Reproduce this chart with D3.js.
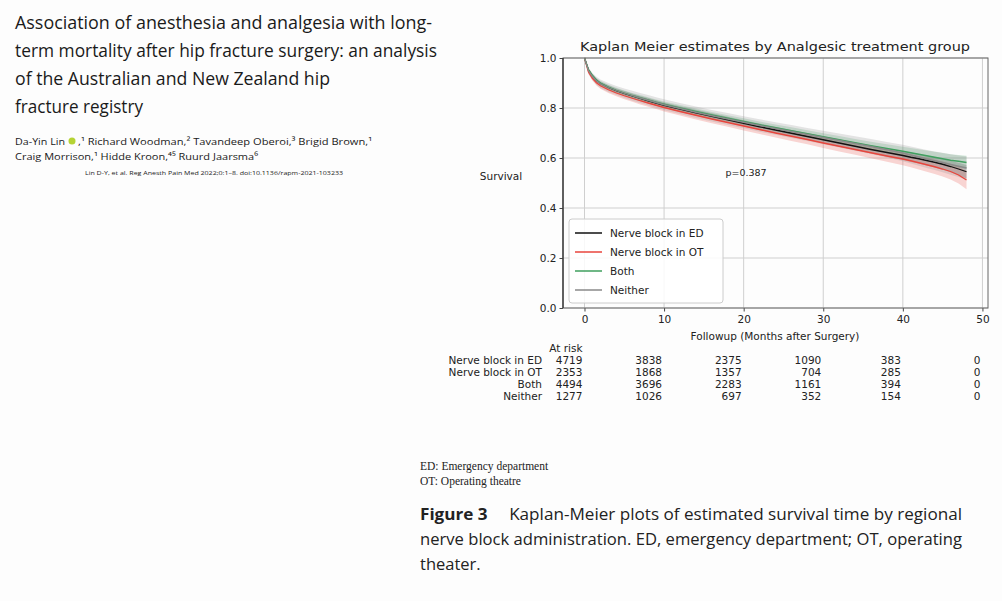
<!DOCTYPE html>
<html>
<head>
<meta charset="utf-8">
<script src="https://cdn.jsdelivr.net/npm/d3@7"></script>
<style>
  body{margin:0;background:#fdfdfd;}
  svg{display:block;}
</style>
</head>
<body>
<div id="chart"></div>
<script>
var w=1002;
var h=601;

// ---- data ----
var months=[0,0.5,1,1.5,2,3,4,5,6,7,8,9,10,12,14,16,18,20,22,24,26,28,30,32,34,36,38,40,41,42,43,44,45,46,47,48];

var survED=[1.000,0.952,0.928,0.910,0.898,0.882,0.869,0.858,0.848,0.838,0.829,0.820,0.811,0.796,0.781,0.767,0.753,0.739,0.725,0.712,0.699,0.686,0.673,0.660,0.647,0.634,0.622,0.610,0.603,0.597,0.590,0.583,0.575,0.566,0.556,0.545];
var survOT=[1.000,0.944,0.919,0.901,0.889,0.873,0.860,0.849,0.839,0.829,0.820,0.811,0.802,0.786,0.771,0.756,0.742,0.728,0.714,0.700,0.687,0.674,0.660,0.647,0.634,0.621,0.608,0.596,0.589,0.581,0.573,0.565,0.556,0.546,0.532,0.512];
var survBoth=[1.000,0.954,0.930,0.912,0.900,0.884,0.871,0.860,0.850,0.841,0.832,0.823,0.815,0.800,0.786,0.772,0.759,0.746,0.733,0.721,0.709,0.697,0.685,0.673,0.661,0.649,0.638,0.627,0.621,0.615,0.609,0.603,0.597,0.591,0.587,0.582];
var survNeither=[1.000,0.950,0.926,0.909,0.897,0.882,0.870,0.859,0.849,0.840,0.831,0.822,0.813,0.798,0.783,0.769,0.756,0.743,0.730,0.718,0.706,0.694,0.682,0.670,0.658,0.646,0.633,0.620,0.612,0.604,0.596,0.589,0.582,0.574,0.567,0.560];

// half width of the 95% band
var ciED=[0,0.006,0.007,0.008,0.008,0.009,0.009,0.010,0.010,0.010,0.011,0.011,0.011,0.011,0.012,0.012,0.012,0.012,0.013,0.013,0.013,0.014,0.014,0.015,0.015,0.016,0.017,0.018,0.019,0.019,0.020,0.021,0.022,0.023,0.025,0.027];
var ciOT=[0,0.009,0.010,0.011,0.012,0.013,0.013,0.014,0.014,0.015,0.015,0.015,0.016,0.016,0.017,0.017,0.017,0.018,0.018,0.018,0.019,0.019,0.020,0.021,0.021,0.022,0.023,0.025,0.026,0.027,0.028,0.029,0.030,0.032,0.034,0.037];
var ciBoth=[0,0.006,0.007,0.008,0.009,0.009,0.010,0.010,0.010,0.011,0.011,0.011,0.011,0.012,0.012,0.012,0.012,0.013,0.013,0.013,0.014,0.014,0.014,0.015,0.015,0.016,0.017,0.018,0.019,0.020,0.021,0.022,0.023,0.024,0.025,0.027];
var ciNeither=[0,0.012,0.014,0.016,0.017,0.018,0.018,0.019,0.020,0.020,0.021,0.021,0.022,0.022,0.023,0.023,0.024,0.024,0.025,0.025,0.026,0.026,0.027,0.028,0.029,0.030,0.031,0.033,0.034,0.035,0.036,0.037,0.039,0.041,0.043,0.046];

var groupNames=["Nerve block in ED","Nerve block in OT","Both","Neither"];
var groupColors=["#111111","#e8453c","#3f9f5e","#8a8a8a"];

var riskTimes=[0,10,20,30,40,50];
var riskED=[4719,3838,2375,1090,383,0];
var riskOT=[2353,1868,1357,704,285,0];
var riskBoth=[4494,3696,2283,1161,394,0];
var riskNeither=[1277,1026,697,352,154,0];

var xTicks=[0,10,20,30,40,50];
var yTicks=[0,0.2,0.4,0.6,0.8,1.0];

var groups=[
  {name:groupNames[0],color:groupColors[0],surv:survED,ci:ciED,risk:riskED},
  {name:groupNames[1],color:groupColors[1],surv:survOT,ci:ciOT,risk:riskOT},
  {name:groupNames[2],color:groupColors[2],surv:survBoth,ci:ciBoth,risk:riskBoth},
  {name:groupNames[3],color:groupColors[3],surv:survNeither,ci:ciNeither,risk:riskNeither}
];

var svg=d3.select("#chart").append("svg")
          .attr("width",w)
          .attr("height",h);

// ---- article header, left ----
var head=svg.append("g").attr("font-family","'Open Sans',sans-serif").attr("fill","#1a1a1a");
var titleLines=[
  ["Association of anesthesia and analgesia with long-",29,417],
  ["term mortality after hip fracture surgery: an analysis",57,422],
  ["of the Australian and New Zealand hip",85,315],
  ["fracture registry",113,128]
];
titleLines.forEach(function(l){
  head.append("text").attr("x",15).attr("y",l[1])
      .attr("font-size",19)
      .attr("textLength",l[2]).attr("lengthAdjust","spacingAndGlyphs")
      .text(l[0]);
});
head.append("text").attr("x",15).attr("y",145).attr("font-size",9.5)
    .attr("textLength",50).attr("lengthAdjust","spacingAndGlyphs")
    .text("Da-Yin Lin");
head.append("circle").attr("cx",72).attr("cy",141).attr("r",3.5).attr("fill","#b5d334");
head.append("text").attr("x",78).attr("y",145).attr("font-size",9.5)
    .attr("textLength",294).attr("lengthAdjust","spacingAndGlyphs")
    .text(",\u00b9 Richard Woodman,\u00b2 Tavandeep Oberoi,\u00b3 Brigid Brown,\u00b9");
head.append("text").attr("x",15).attr("y",160).attr("font-size",9.5)
    .attr("textLength",243).attr("lengthAdjust","spacingAndGlyphs")
    .text("Craig Morrison,\u00b9 Hidde Kroon,\u2074\u2075 Ruurd Jaarsma\u2076");
head.append("text").attr("x",85).attr("y",175).attr("font-size",6)
    .attr("textLength",258).attr("lengthAdjust","spacingAndGlyphs")
    .text("Lin D-Y, et al. Reg Anesth Pain Med 2022;0:1\u20138. doi:10.1136/rapm-2021-103233");

// ---- KM plot ----
var x=d3.scaleLinear().domain([-2.7,50.7]).range([563,988]);
var y=d3.scaleLinear().domain([0,1]).range([308,58]);

var plot=svg.append("g").attr("font-family","'DejaVu Sans',sans-serif");

// grid
plot.append("g").selectAll("line").data(xTicks).enter().append("line")
    .attr("x1",function(d){return x(d);}).attr("x2",function(d){return x(d);})
    .attr("y1",y(0)).attr("y2",y(1))
    .attr("stroke","#cfcfcf").attr("stroke-width",1);
plot.append("g").selectAll("line").data(yTicks).enter().append("line")
    .attr("x1",x.range()[0]).attr("x2",x.range()[1])
    .attr("y1",function(d){return y(d);}).attr("y2",function(d){return y(d);})
    .attr("stroke","#cfcfcf").attr("stroke-width",1);

// bands then lines
var area=d3.area()
  .x(function(d){return x(d.t);})
  .y0(function(d){return y(d.s-d.c);})
  .y1(function(d){return y(d.s+d.c);});
var line=d3.line()
  .x(function(d){return x(d.t);})
  .y(function(d){return y(d.s);});

groups.forEach(function(g){
  g.pts=months.map(function(t,i){return {t:t,s:g.surv[i],c:g.ci[i]};});
});
plot.append("g").selectAll("path").data(groups).enter().append("path")
    .attr("d",function(g){return area(g.pts);})
    .attr("fill",function(g){return g.color;})
    .attr("fill-opacity",0.22);
plot.append("g").selectAll("path").data(groups).enter().append("path")
    .attr("d",function(g){return line(g.pts);})
    .attr("fill","none")
    .attr("stroke",function(g){return g.color;})
    .attr("stroke-width",1.3);

// axes
var xAxis=plot.append("g").attr("transform","translate(0,"+y(0)+")")
  .call(d3.axisBottom(x).tickValues(xTicks).tickSize(3.5).tickFormat(d3.format("d")));
var yAxis=plot.append("g").attr("transform","translate("+x.range()[0]+",0)")
  .call(d3.axisLeft(y).tickValues(yTicks).tickSize(3.5).tickFormat(d3.format(".1f")));
[xAxis,yAxis].forEach(function(a){
  a.select(".domain").remove();
  a.selectAll("text").attr("font-size",10.5).attr("fill","#222").attr("font-family","'DejaVu Sans',sans-serif");
  a.selectAll("line").attr("stroke","#444");
});
xAxis.selectAll("text").attr("dy","0.8em");

// frame
plot.append("rect").attr("x",x.range()[0]).attr("y",y(1))
    .attr("width",x.range()[1]-x.range()[0]).attr("height",y(0)-y(1))
    .attr("fill","none").attr("stroke","#666").attr("stroke-width",1);
plot.append("line").attr("x1",x.range()[0]).attr("x2",x.range()[0])
    .attr("y1",y(1)).attr("y2",y(0)).attr("stroke","#333").attr("stroke-width",1.3);

plot.append("text").attr("x",775).attr("y",51).attr("text-anchor","middle")
    .attr("font-size",12.5).attr("fill","#222")
    .attr("textLength",390).attr("lengthAdjust","spacingAndGlyphs")
    .text("Kaplan Meier estimates by Analgesic treatment group");
plot.append("text").attr("x",775).attr("y",340).attr("text-anchor","middle")
    .attr("font-size",10.5).attr("fill","#222")
    .text("Followup (Months after Surgery)");
plot.append("text").attr("x",501).attr("y",180).attr("text-anchor","middle")
    .attr("font-size",10.5).attr("fill","#222")
    .text("Survival");
plot.append("text").attr("x",746).attr("y",176).attr("text-anchor","middle")
    .attr("font-size",9.5).attr("fill","#222")
    .text("p=0.387");

// legend
var lg=plot.append("g");
lg.append("rect").attr("x",569).attr("y",219).attr("width",154).attr("height",84).attr("rx",3)
  .attr("fill","#fff").attr("fill-opacity",0.85).attr("stroke","#ccc");
var li=lg.selectAll("g").data(groups).enter().append("g")
  .attr("transform",function(d,i){return "translate(0,"+(233+i*19)+")";});
li.append("line").attr("x1",575).attr("x2",602).attr("y1",0).attr("y2",0)
  .attr("stroke",function(d){return d.color;}).attr("stroke-width",1.5);
li.append("text").attr("x",610).attr("y",0).attr("dy","0.35em")
  .attr("font-size",10.5).attr("fill","#222")
  .text(function(d){return d.name;});

// at risk table
var tb=plot.append("g").attr("font-size",10.5).attr("fill","#222");
tb.append("text").attr("x",x(0)-2).attr("y",348).attr("dy","0.35em").attr("text-anchor","end").text("At risk");
var rows=tb.selectAll("g.row").data(groups).enter().append("g").attr("class","row")
  .attr("transform",function(d,i){return "translate(0,"+(360+i*12)+")";});
rows.append("text").attr("x",542).attr("dy","0.35em").attr("text-anchor","end")
  .text(function(d){return d.name;});
rows.selectAll("text.n").data(function(d){
    return riskTimes.map(function(t,i){return {t:t,n:d.risk[i]};});
  }).enter().append("text").attr("class","n")
  .attr("x",function(d){return x(d.t)-2;}).attr("dy","0.35em").attr("text-anchor","end")
  .text(function(d){return d.n;});

// ---- footnotes & caption ----
var foot=svg.append("g").attr("fill","#222");
foot.append("text").attr("x",420).attr("y",470).attr("font-family","'Liberation Serif',serif")
    .attr("font-size",11.5).text("ED: Emergency department");
foot.append("text").attr("x",420).attr("y",485).attr("font-family","'Liberation Serif',serif")
    .attr("font-size",11.5).text("OT: Operating theatre");
var cap=[
  [545,"nerve block administration. ED, emergency department; OT, operating",542],
  [570,"theater.",0]
];
var c1=foot.append("text").attr("x",420).attr("y",520).attr("font-family","'Open Sans',sans-serif")
    .attr("font-size",16.5).attr("textLength",542).attr("lengthAdjust","spacingAndGlyphs");
c1.append("tspan").attr("font-weight","bold").text("Figure 3");
c1.append("tspan").text("\u2003 Kaplan-Meier plots of estimated survival time by regional");
cap.forEach(function(c){
  var t=foot.append("text").attr("x",420).attr("y",c[0]).attr("font-family","'Open Sans',sans-serif")
    .attr("font-size",16.5).text(c[1]);
  if(c[2]) t.attr("textLength",c[2]).attr("lengthAdjust","spacingAndGlyphs");
});
</script>
</body>
</html>
